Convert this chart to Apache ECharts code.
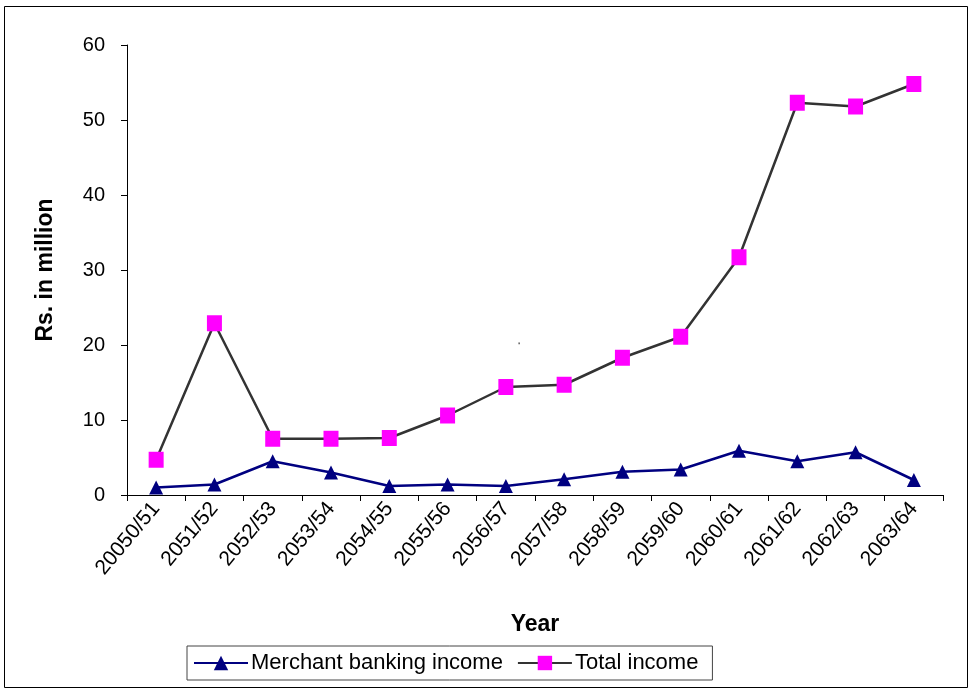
<!DOCTYPE html>
<html>
<head>
<meta charset="utf-8">
<script src="https://cdn.jsdelivr.net/npm/echarts@6/dist/echarts.min.js"></script>
<style>
  html, body { margin: 0; padding: 0; background: #fff; }
  #chart { width: 970px; height: 689px; }
</style>
</head>
<body>
<div id="chart"></div>
<script>
// Fiscal years (Nepali calendar)
const years = ['20050/51', '2051/52', '2052/53', '2053/54', '2054/55', '2055/56', '2056/57',
               '2057/58', '2058/59', '2059/60', '2060/61', '2061/62', '2062/63', '2063/64'];

// Income, Rs. in million
const merchantBankingIncome = [1.0, 1.4, 4.5, 3.0, 1.2, 1.4, 1.2, 2.1, 3.1, 3.4, 5.9, 4.5, 5.7, 2.0];
const totalIncome = [4.7, 22.9, 7.5, 7.5, 7.6, 10.6, 14.4, 14.7, 18.3, 21.1, 31.7, 52.3, 51.8, 54.8];

// Value axis ticks
const yTicks = { min: 0, max: 60, interval: 10 };

const font = '"Liberation Sans", Arial, sans-serif';

const chart = echarts.init(document.getElementById('chart'), null, { renderer: 'canvas' });

chart.setOption({
  backgroundColor: '#ffffff',
  animation: false,
  textStyle: { fontFamily: font },
  grid: { left: 127, right: 27, top: 45, bottom: 194, containLabel: false },
  xAxis: {
    type: 'category',
    data: years,
    boundaryGap: true,
    name: 'Year',
    nameLocation: 'middle',
    nameGap: 118,
    nameTextStyle: { fontFamily: font, fontSize: 23, fontWeight: 'bold', color: '#000' },
    axisLine: { lineStyle: { color: '#000', width: 1 } },
    axisTick: { show: true, inside: false, length: 6, lineStyle: { color: '#000' } },
    axisLabel: { rotate: 50, fontSize: 21, color: '#000', fontFamily: font, margin: 10, interval: 0 },
    splitLine: { show: false }
  },
  yAxis: {
    type: 'value',
    min: yTicks.min,
    max: yTicks.max,
    interval: yTicks.interval,
    name: 'Rs. in million',
    nameLocation: 'middle',
    nameGap: 70,
    nameRotate: 90,
    nameTextStyle: { fontFamily: font, fontSize: 23, fontWeight: 'bold', color: '#000' },
    axisLine: { show: true, lineStyle: { color: '#000', width: 1 } },
    axisTick: { show: true, length: 6, lineStyle: { color: '#000' } },
    axisLabel: { fontSize: 20, color: '#000', fontFamily: font, margin: 22 },
    splitLine: { show: false }
  },
  legend: {
    left: 187,
    top: 646,
    padding: [6, 14, 6, 6],
    itemGap: 14,
    itemWidth: 54,
    itemHeight: 18,
    borderColor: '#444',
    borderWidth: 1,
    borderRadius: 0,
    textStyle: { fontFamily: font, fontSize: 22, color: '#000', padding: [0, 0, 0, -2] },
    data: ['Merchant banking income', 'Total income']
  },
  series: [
    {
      name: 'Merchant banking income',
      type: 'line',
      data: merchantBankingIncome,
      symbol: 'triangle',
      symbolSize: [14, 14],
      itemStyle: { color: '#000080' },
      lineStyle: { color: '#000080', width: 2.5 },
      z: 3
    },
    {
      name: 'Total income',
      type: 'line',
      data: totalIncome,
      symbol: 'rect',
      symbolSize: [15, 16],
      itemStyle: { color: '#ff00ff' },
      lineStyle: { color: '#333333', width: 2.5 },
      z: 2
    }
  ],
  graphic: [
    {
      type: 'rect',
      shape: { x: 4.5, y: 6.5, width: 963, height: 681 },
      style: { fill: 'none', stroke: '#000', lineWidth: 1 },
      silent: true
    },
    {
      type: 'text',
      left: 518,
      top: 342,
      style: { text: '\u2018', font: '10px ' + font, fill: '#000' },
      silent: true
    }
  ]
});
</script>
</body>
</html>
